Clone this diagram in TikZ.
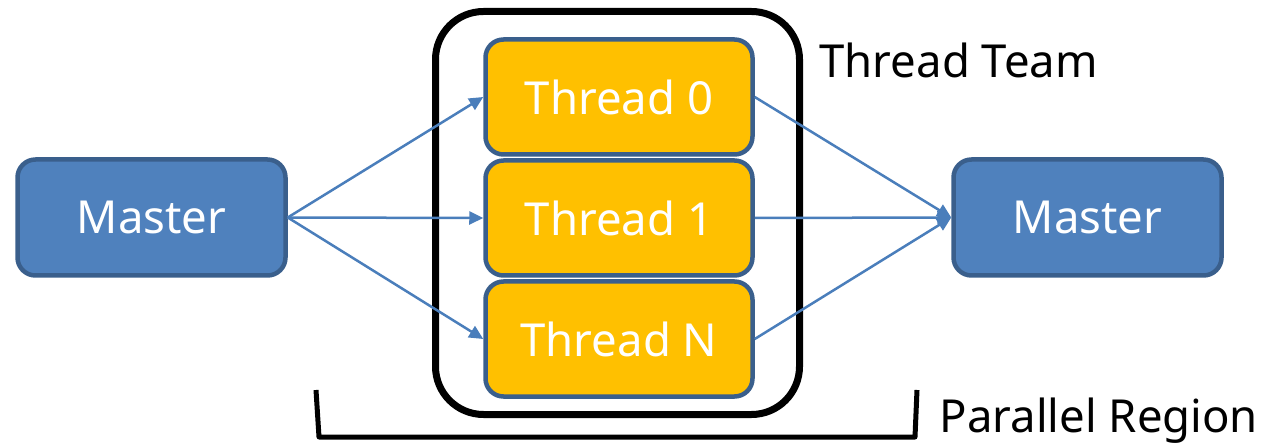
\documentclass[tikz,border=0pt]{standalone}
\usepackage{fontspec}
\setmainfont{Noto Sans}
\usetikzlibrary{arrows.meta}
\definecolor{masterblue}{RGB}{79,129,189}
\definecolor{edgeblue}{RGB}{58,95,140}
\definecolor{arrowblue}{RGB}{74,126,187}
\definecolor{threadgold}{RGB}{255,192,0}
\begin{document}
\begin{tikzpicture}[line join=round, x=1pt, y=-1pt,
	master/.style={draw=edgeblue, fill=masterblue, line width=4.5pt, rounded corners=18pt,
		minimum width=268pt, minimum height=116pt, text=white, font=\fontsize{45.5}{50}\selectfont},
	thread/.style={master, fill=threadgold, minimum width=267pt, minimum height=115pt},
	flow/.style={-{Triangle[length=14pt, width=13pt]}, color=arrowblue, line width=2.5pt}]
	\useasboundingbox (0,0) rectangle (1263,443);
	% team box
	\draw[line width=7pt, rounded corners=48pt] (435.5,11.5) rectangle (799.5,414.5);
	\node[master] (m1) at (151.5,217.5) {Master};
	\node[master] (m2) at (1087.5,217.5) {Master};
	\node[thread] (t0) at (619,97) {Thread 0};
	\node[thread] (t1) at (619,218) {Thread 1};
	\node[thread] (tn) at (619,339) {Thread N};
	\foreach \t in {t0,t1,tn}{
		\draw[flow] (m1.east) -- (\t.west);
		\draw[flow] (\t.east) -- (m2.west);
	}
	% parallel region bracket
	\draw[line width=5pt] (316,390) -- (319,437) -- (915,437) -- (917,390);
	\node[anchor=base west, font=\fontsize{45.5}{50}\selectfont] (team) at (816,78) {Thread Team};
	\node[anchor=base west, font=\fontsize{45.5}{50}\selectfont] (region) at (936,432) {Parallel Region};
\end{tikzpicture}
\end{document}
